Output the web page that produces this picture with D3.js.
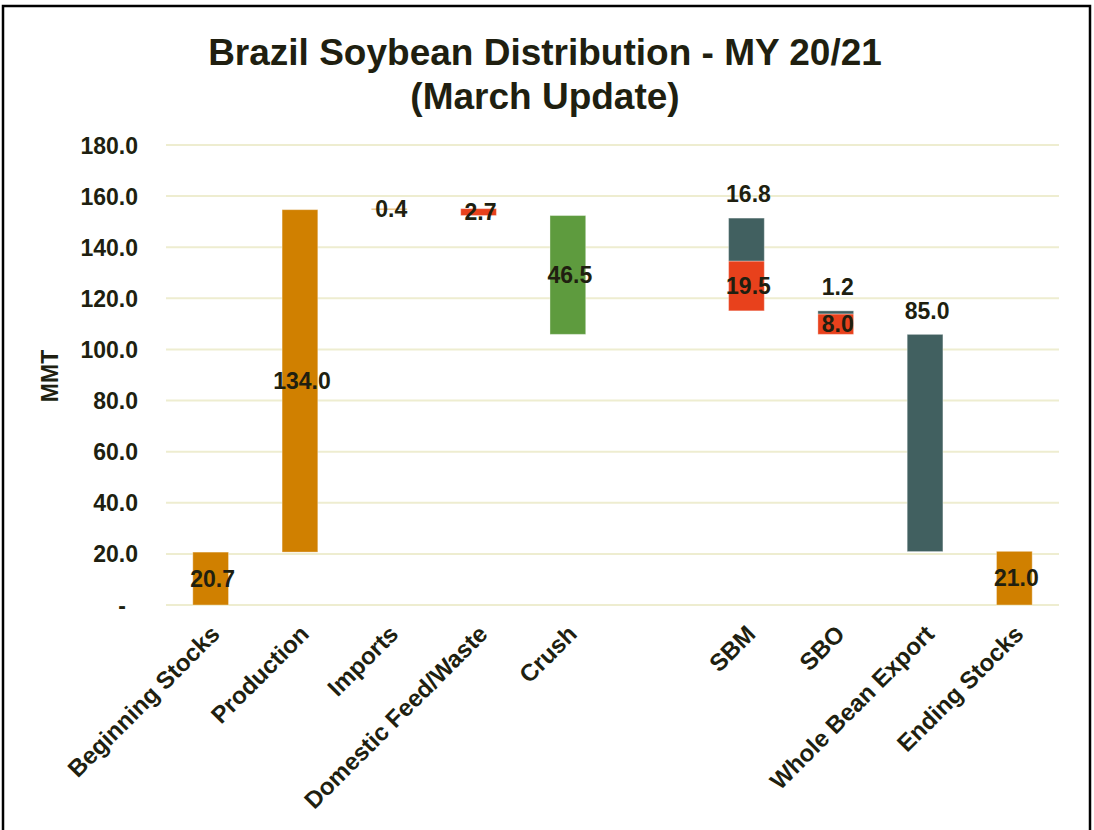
<!doctype html>
<html>
<head>
  <meta charset="utf-8">
  <script src="https://d3js.org/d3.v7.min.js"></script>
  <style>
    body { margin: 0; background: #fff; }
    text { font-family: "Liberation Sans", Arial, sans-serif; font-weight: bold; fill: #201f10; }
  </style>
</head>
<body>
<script>
  // categories (the blank one is the gap between Crush and SBM)
  var categories = ["Beginning Stocks", "Production", "Imports", "Domestic Feed/Waste", "Crush", "",
                    "SBM", "SBO", "Whole Bean Export", "Ending Stocks"];

  // supply / use steps of the bean balance (MMT)
  var beanSteps = [20.7, 134.0, 0.4, -2.7, -46.5];
  var beanColors = ["#d08000", "#d08000", "#d08000", "#e8411c", "#5e9b3e"];

  // crush products: export part and domestic part
  var productCats = ["SBM", "SBO"];
  var productExport = [16.8, 1.2];
  var productDomestic = [19.5, 8.0];

  var wholeBeanExport = 85.0;
  var endingStocks = 21.0;

  var yTicks = [0, 20, 40, 60, 80, 100, 120, 140, 160, 180];

  var width = 1094, height = 830;
  var plotLeft = 166, plotRight = 1059, plotTop = 145, plotBottom = 605;

  var svg = d3.select("body").append("svg")
    .attr("width", width)
    .attr("height", height);

  // outer frame
  svg.append("rect")
    .attr("x", 3).attr("y", 6)
    .attr("width", 1087).attr("height", 840)
    .attr("fill", "none")
    .attr("stroke", "#000")
    .attr("stroke-width", 2.5);

  var x = d3.scaleBand()
    .domain(categories)
    .range([plotLeft, plotRight])
    .paddingInner(0.6)
    .paddingOuter(0.3);

  var y = d3.scaleLinear()
    .domain([0, 180])
    .range([plotBottom, plotTop]);

  // build the floating segments
  var segs = [];
  var level = 0;
  beanSteps.forEach(function(v, i) {
    var y0 = i == 0 ? 0 : level;
    var y1 = y0 + v;
    segs.push({ cat: categories[i], lo: Math.min(y0, y1), hi: Math.max(y0, y1), color: beanColors[i], label: Math.abs(v).toFixed(1), pos: "mid" });
    level = y1;
  });
  var afterCrush = level;

  // SBO first from crush bottom, SBM stacked above it
  var base = afterCrush;
  for (var k = productCats.length - 1; k >= 0; k--) {
    segs.push({ cat: productCats[k], lo: base, hi: base + productDomestic[k], color: "#e8411c", label: productDomestic[k].toFixed(1), pos: "mid" });
    base += productDomestic[k];
    segs.push({ cat: productCats[k], lo: base, hi: base + productExport[k], color: "#416060", label: productExport[k].toFixed(1), pos: "top" });
    base += productExport[k];
  }

  segs.push({ cat: "Whole Bean Export", lo: afterCrush - wholeBeanExport, hi: afterCrush, color: "#416060", label: wholeBeanExport.toFixed(1), pos: "top" });
  segs.push({ cat: "Ending Stocks", lo: 0, hi: endingStocks, color: "#d08000", label: endingStocks.toFixed(1), pos: "mid" });

  // gridlines
  svg.append("g")
    .selectAll("line")
    .data(yTicks)
    .enter().append("line")
    .attr("x1", plotLeft).attr("x2", plotRight)
    .attr("y1", function(d) { return y(d); })
    .attr("y2", function(d) { return y(d); })
    .attr("stroke", "#eeedd0")
    .attr("stroke-width", 2);

  // y axis labels
  var yAxis = d3.axisLeft(y)
    .tickValues(yTicks)
    .tickSize(0)
    .tickPadding(0)
    .tickFormat(function(d) { return d == 0 ? "-" : d.toFixed(1); });

  var gy = svg.append("g")
    .attr("transform", "translate(138,0)")
    .call(yAxis);
  gy.select(".domain").remove();
  gy.selectAll("text")
    .style("font-size", "23px")
    .attr("dy", "0.35em")
    .attr("dx", function(d) { return d == 0 ? -12 : 0; });

  svg.append("text")
    .attr("transform", "translate(58,376) rotate(-90)")
    .attr("text-anchor", "middle")
    .style("font-size", "23px")
    .text("MMT");

  // bars
  svg.append("g")
    .selectAll("rect")
    .data(segs)
    .enter().append("rect")
    .attr("x", function(d) { return x(d.cat); })
    .attr("width", x.bandwidth())
    .attr("y", function(d) { return y(d.hi); })
    .attr("height", function(d) { return Math.max(1, y(d.lo) - y(d.hi)); })
    .attr("fill", function(d) { return d.color; })
    .attr("stroke", "rgba(255,255,255,0.35)")
    .attr("stroke-width", 1);

  // value labels
  svg.append("g")
    .selectAll("text")
    .data(segs)
    .enter().append("text")
    .attr("x", function(d) { return x(d.cat) + x.bandwidth() / 2 + 2; })
    .attr("y", function(d) {
      return d.pos == "top" ? y(d.hi) - 24 : y((d.lo + d.hi) / 2);
    })
    .attr("dy", "0.36em")
    .attr("text-anchor", "middle")
    .style("font-size", "23px")
    .text(function(d) { return d.label; });

  // category axis
  var xAxis = d3.axisBottom(x).tickSize(0).tickPadding(0);
  var gx = svg.append("g")
    .attr("transform", "translate(0," + (plotBottom + 22) + ")")
    .call(xAxis);
  gx.select(".domain").remove();
  gx.selectAll("text")
    .style("font-size", "24px")
    .attr("text-anchor", "end")
    .attr("y", 0)
    .attr("dy", "0.5em")
    .attr("transform", "translate(2,0) rotate(-45)");

  // title
  var title = svg.append("text")
    .attr("text-anchor", "middle")
    .style("font-size", "37px");
  title.append("tspan").attr("x", 545).attr("y", 65).text("Brazil Soybean Distribution - MY 20/21");
  title.append("tspan").attr("x", 545).attr("y", 109).text("(March Update)");
</script>
</body>
</html>
